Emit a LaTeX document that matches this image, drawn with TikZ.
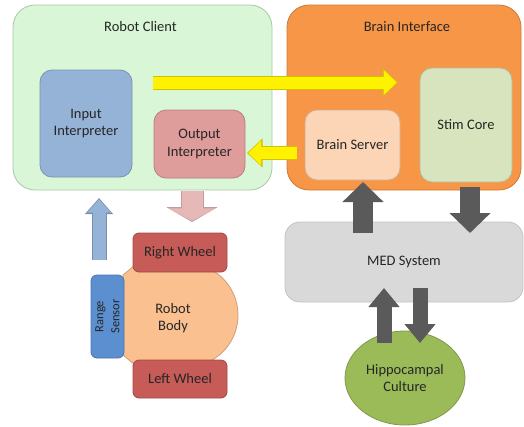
\documentclass[tikz,border=0pt]{standalone}
\usepackage{fontspec}
\setmainfont{Carlito}
\usetikzlibrary{arrows.meta}
\usetikzlibrary{shapes.geometric}
\definecolor{clientbg}{HTML}{D9F6D6}
\definecolor{clientln}{HTML}{A9C7A9}
\definecolor{brainbg}{HTML}{F79646}
\definecolor{inbg}{HTML}{95B3D7}
\definecolor{outbg}{HTML}{DE9C9B}
\definecolor{srvbg}{HTML}{FBD5B5}
\definecolor{stimbg}{HTML}{D8E4BE}
\definecolor{medbg}{HTML}{D9D9D9}
\definecolor{hippobg}{HTML}{9BBB59}
\definecolor{wheelbg}{HTML}{C65B57}
\definecolor{sensorbg}{HTML}{5B8FD0}
\definecolor{bodybg}{HTML}{FAC090}
\definecolor{txt}{HTML}{262626}
\definecolor{darkarrow}{HTML}{5A5A5A}
\definecolor{yline}{HTML}{D2C200}
\definecolor{pinkarrow}{HTML}{E6B9B8}
\tikzset{
  block/.style={rounded corners=12pt, fill=#1, draw=#1!82!black, line width=0.8pt,
    inner sep=0pt, align=center, text=txt, font=\fontsize{14.5}{17.5}\selectfont},
  title/.style={inner sep=0pt, text=txt, font=\fontsize{14.5}{17.5}\selectfont},
  yarrow/.style={draw=yellow, line width=12pt, -{Triangle[width=24pt,length=13pt]}, shorten >=1.2pt,
    preaction={draw=yline, line width=14pt, shorten >=0pt, -{Triangle[width=28pt,length=15.5pt]}}},
  barrow/.style={draw=inbg, line width=13pt, -{Triangle[width=23pt,length=13.5pt]}, shorten >=1.2pt,
    preaction={draw=inbg!80!black, line width=15pt, shorten >=0pt, -{Triangle[width=27pt,length=16pt]}}},
  parrow/.style={draw=pinkarrow, line width=21pt, -{Triangle[width=47pt,length=12.5pt]}, shorten >=1.2pt,
    preaction={draw=pinkarrow!85!black, line width=23pt, shorten >=0pt, -{Triangle[width=51pt,length=15pt]}}},
  garrow/.style={draw=darkarrow, line width=20pt, -{Triangle[width=40pt,length=20pt]}},
  smallgarrow/.style={draw=darkarrow, line width=15pt, -{Triangle[width=30pt,length=19pt]}}
}

\begin{document}
\begin{tikzpicture}[x=1pt,y=-1pt]
  \useasboundingbox (0,0) rectangle (524,426);
  % containers
  \node[block=clientbg, draw=clientln, rounded corners=22pt, minimum width=259pt, minimum height=185pt] (client) at (142.5,97.5) {};
  \node[block=brainbg, rounded corners=22pt, minimum width=234pt, minimum height=185pt] (brain) at (404,97.5) {};
  \node[title] (clienttitle) at (140.5,27) {Robot Client};
  \node[title] (braintitle) at (407,27) {Brain Interface};
  % inner blocks
  \node[block=inbg, minimum width=92pt, minimum height=107pt] (inint) at (86,123.5) {Input\\Interpreter};
  \node[block=outbg, minimum width=91pt, minimum height=68pt] (outint) at (199.5,144) {Output\\Interpreter};
  \node[block=srvbg, minimum width=95pt, minimum height=70pt] (brainsrv) at (352.5,145) {Brain Server};
  \node[block=stimbg, minimum width=92pt, minimum height=114pt] (stimcore) at (466,125) {Stim Core};
  \node[block=medbg, draw=medbg!90!black, rounded corners=15pt, minimum width=238pt, minimum height=80pt] (med) at (404,262) {MED System};
  \node[block=hippobg, ellipse, minimum width=120pt, minimum height=94pt] (hippo) at (405,378) {Hippocampal\\Culture};
  % robot
  \draw[fill=bodybg, draw=bodybg!82!black, line width=0.8pt]
    (123,275) -- (135,265) -- (200,265) arc[start angle=-74.4, end angle=74.4, radius=52]
    -- (135,365) -- (123,355) -- cycle;
  \node[title] (body) at (173,318) [align=center] {Robot\\Body};
  \node[block=wheelbg, rounded corners=6pt, minimum width=94pt, minimum height=39pt] (rwheel) at (180,252.5) {Right Wheel};
  \node[block=wheelbg, rounded corners=6pt, minimum width=94pt, minimum height=38pt] (lwheel) at (180,379) {Left Wheel};
  \node[block=sensorbg, rounded corners=6pt, rotate=90, minimum width=83pt, minimum height=33pt,
    font=\fontsize{12.5}{16}\selectfont] (sensor) at (107.5,316.5) {Range\\Sensor};
  % arrow ends
  \coordinate (toStimA) at (153,82.5);   \coordinate (toStimB) at (398,82.5);
  \coordinate (fromSrvA) at (297,153);   \coordinate (fromSrvB) at (247,153);
  \coordinate (upSrvA) at (363,233);     \coordinate (upSrvB) at (363,182);
  \coordinate (dnStimA) at (470,187);    \coordinate (dnStimB) at (470,233);
  \coordinate (upMedA) at (384,343);     \coordinate (upMedB) at (384,288);
  \coordinate (dnMedA) at (420,288);     \coordinate (dnMedB) at (420,343);
  \coordinate (senseA) at (99,260);      \coordinate (senseB) at (99,198);
  \coordinate (driveA) at (192,191);     \coordinate (driveB) at (192,222);
  % arrows
  \draw[yarrow] (toStimA) -- (toStimB);
  \draw[yarrow] (fromSrvA) -- (fromSrvB);
  \draw[garrow] (upSrvA) -- (upSrvB);
  \draw[garrow] (dnStimA) -- (dnStimB);
  \draw[smallgarrow] (upMedA) -- (upMedB);
  \draw[smallgarrow] (dnMedA) -- (dnMedB);
  \draw[barrow] (senseA) -- (senseB);
  \draw[parrow] (driveA) -- (driveB);
\end{tikzpicture}
\end{document}
